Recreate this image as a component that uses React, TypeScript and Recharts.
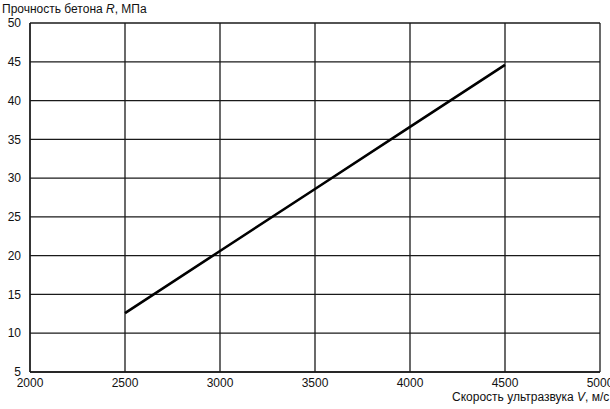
import { LineChart, Line, XAxis, YAxis, CartesianGrid } from "recharts";

// Скорость ультразвука V, м/с
const speeds = [2500, 3000, 3500, 4000, 4500];
// Прочность бетона R, МПа
const strength = [12.6, 20.6, 28.6, 36.6, 44.6];

const xTicks = [2000, 2500, 3000, 3500, 4000, 4500, 5000];
const yTicks = [5, 10, 15, 20, 25, 30, 35, 40, 45, 50];

const data = speeds.map((v, i) => ({ v, r: strength[i] }));

const FONT = "'Liberation Sans', Arial, sans-serif";

export default function App() {
  return (
    <div
      style={{
        position: "absolute",
        left: 0,
        top: 0,
        width: 610,
        height: 409,
        overflow: "hidden",
        background: "#fff",
        fontFamily: FONT,
      }}
    >
      <LineChart
        width={610}
        height={409}
        data={data}
        margin={{ top: 23, right: 10, left: 0, bottom: 0 }}
      >
        <CartesianGrid stroke="#1a1a1a" strokeWidth={1.3} />
        <XAxis
          dataKey="v"
          type="number"
          domain={[2000, 5000]}
          ticks={xTicks}
          height={37}
          axisLine={{ stroke: "#1a1a1a", strokeWidth: 1.3 }}
          tickLine={false}
          tickMargin={0}
          interval={0}
          tick={{ fill: "#111", fontSize: 12, fontFamily: FONT }}
        />
        <YAxis
          type="number"
          domain={[5, 50]}
          ticks={yTicks}
          width={30}
          axisLine={{ stroke: "#1a1a1a", strokeWidth: 1.3 }}
          tickLine={false}
          tickMargin={3}
          interval={0}
          tick={{ fill: "#111", fontSize: 12, fontFamily: FONT }}
        />
        <Line
          dataKey="r"
          type="linear"
          stroke="#000"
          strokeWidth={2.6}
          dot={false}
          isAnimationActive={false}
        />
      </LineChart>
      <div
        style={{
          position: "absolute",
          left: 2,
          top: 2,
          fontSize: 12,
          color: "#111",
          whiteSpace: "nowrap",
        }}
      >
        Прочность бетона <i>R</i>, МПа
      </div>
      <div
        style={{
          position: "absolute",
          left: 452,
          top: 390,
          fontSize: 12,
          color: "#111",
          whiteSpace: "nowrap",
        }}
      >
        Скорость ультразвука <i>V</i>, м/с
      </div>
    </div>
  );
}
